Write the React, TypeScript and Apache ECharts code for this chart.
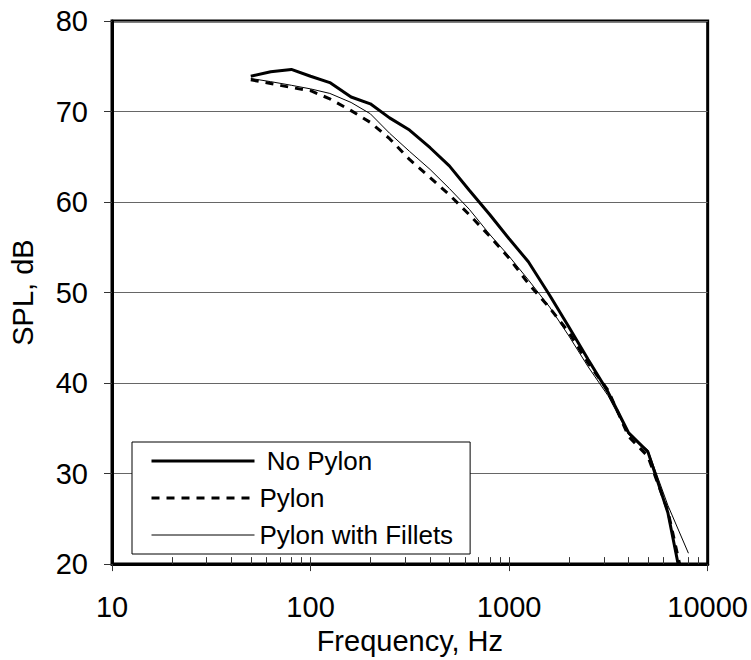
import React, { useEffect, useRef } from "react";
import * as echarts from "echarts";

const frequencies = [50, 63, 80, 100, 125, 160, 200, 250, 315, 400, 500, 630, 800, 1000, 1250, 1600, 2000, 2500, 3150, 4000, 5000, 6300, 8000];
const noPylon = [73.9, 74.4, 74.65, 73.9, 73.2, 71.6, 70.85, 69.3, 67.95, 66.0, 64.0, 61.3, 58.6, 55.95, 53.4, 49.7, 46.2, 42.6, 39.0, 34.5, 32.4, 25.7, 14.3];
const pylon = [73.5, 73.1, 72.65, 72.3, 71.4, 70.1, 68.8, 67.0, 64.7, 62.7, 60.8, 58.6, 56.2, 53.8, 51.0, 48.3, 45.6, 42.2, 39.2, 34.1, 31.9, 25.9, 15.6];
const pylonFillets = [73.65, 73.3, 72.9, 72.5, 72.0, 71.0, 69.75, 67.6, 65.6, 63.6, 61.5, 59.2, 56.4, 54.0, 51.4, 48.4, 45.2, 41.8, 38.6, 34.3, 32.6, 26.5, 21.2];
const seriesNames = ["No Pylon", "Pylon", "Pylon with Fillets"];
const xMinorTickValues = [20, 30, 40, 50, 60, 70, 80, 90, 100, 200, 300, 400, 500, 600, 700, 800, 900, 1000, 2000, 3000, 4000, 5000, 6000, 7000, 8000, 9000];

const FONT = "'Liberation Sans', Arial, sans-serif";
const AXIS_FONT = 29;

const lineStyles = [
  { color: "#000", width: 3, type: "solid" as any },
  { color: "#000", width: 3, type: [8, 7] as any },
  { color: "#000", width: 1, type: "solid" as any },
];

function pairs(ys: number[]) {
  return frequencies.map((f, i) => [f, ys[i]]);
}

export default function App() {
  const ref = useRef<HTMLDivElement>(null);
  useEffect(() => {
    if (!ref.current) return;
    const chart = echarts.init(ref.current, null, { renderer: "svg" });
    const hidden = { color: "rgba(0,0,0,0)", borderColor: "rgba(0,0,0,0)", borderWidth: 0, opacity: 0 };
    chart.setOption({
      animation: false,
      backgroundColor: "#ffffff",
      grid: {
        left: 111,
        right: 42,
        top: 21,
        bottom: 89,
        show: true,
        borderColor: "#000",
        borderWidth: 3,
        backgroundColor: "transparent",
        containLabel: false,
      },
      legend: {
        orient: "vertical",
        left: 132,
        top: 442,
        itemWidth: 103,
        itemHeight: 14,
        itemGap: 11,
        padding: [6, 17, 6, 18],
        backgroundColor: "#fff",
        borderColor: "#000",
        borderWidth: 1,
        borderRadius: 0,
        itemStyle: hidden,
        data: seriesNames.map((name, i) => ({
          name,
          itemStyle: hidden,
          lineStyle: { ...lineStyles[i] },
        })),
        formatter: (name: string) => (name === "No Pylon" ? "\u00a0" + name : name),
        textStyle: { fontFamily: FONT, fontSize: 26, color: "#000" },
      },
      xAxis: [
        {
          type: "log",
          logBase: 10,
          min: 10,
          max: 10000,
          position: "bottom",
          name: "Frequency, Hz",
          nameLocation: "middle",
          nameGap: 61,
          nameTextStyle: { fontFamily: FONT, fontSize: AXIS_FONT, color: "#000" },
          axisLine: { show: true, lineStyle: { color: "#000", width: 3 } },
          axisTick: { show: true, inside: false, length: 7, lineStyle: { color: "#333", width: 1 } },
          minorTick: { show: false },
          axisLabel: {
            fontFamily: FONT,
            fontSize: AXIS_FONT,
            color: "#000",
            margin: 28,
            formatter: (v: number) => String(Math.round(v)),
          },
          splitLine: { show: false },
        },
        {
          type: "value",
          min: 1,
          max: 4,
          position: "bottom",
          axisLine: { show: false },
          axisLabel: { show: false },
          splitLine: { show: false },
          axisTick: {
            show: true,
            inside: true,
            length: 7,
            lineStyle: { color: "#333", width: 1 },
            customValues: xMinorTickValues.map((v) => Math.log10(v)),
          },
        },
      ],
      yAxis: {
        type: "value",
        min: 20,
        max: 80,
        interval: 10,
        name: "SPL, dB",
        nameLocation: "middle",
        nameGap: 75,
        nameRotate: 90,
        nameTextStyle: { fontFamily: FONT, fontSize: AXIS_FONT, color: "#000" },
        axisLine: { show: true, lineStyle: { color: "#000", width: 3 } },
        axisTick: { show: true, inside: false, length: 8, lineStyle: { color: "#333", width: 1 } },
        axisLabel: { fontFamily: FONT, fontSize: AXIS_FONT, color: "#000", margin: 24 },
        splitLine: { show: true, lineStyle: { color: "#666", width: 1 } },
      },
      series: [
        {
          name: seriesNames[0],
          type: "line",
          xAxisIndex: 0,
          data: pairs(noPylon),
          showSymbol: false,
          symbol: "none",
          clip: true,
          z: 3,
          lineStyle: lineStyles[0],
          itemStyle: { color: "#000" },
        },
        {
          name: seriesNames[1],
          type: "line",
          xAxisIndex: 0,
          data: pairs(pylon),
          showSymbol: false,
          symbol: "none",
          clip: true,
          z: 2,
          lineStyle: lineStyles[1],
          itemStyle: { color: "#000" },
        },
        {
          name: seriesNames[2],
          type: "line",
          xAxisIndex: 0,
          data: pairs(pylonFillets),
          showSymbol: false,
          symbol: "none",
          clip: true,
          z: 2,
          lineStyle: lineStyles[2],
          itemStyle: { color: "#000" },
        },
      ],
    });
    return () => chart.dispose();
  }, []);
  return <div ref={ref} style={{ width: 751, height: 660, position: "absolute", left: 0, top: 0 }} />;
}
